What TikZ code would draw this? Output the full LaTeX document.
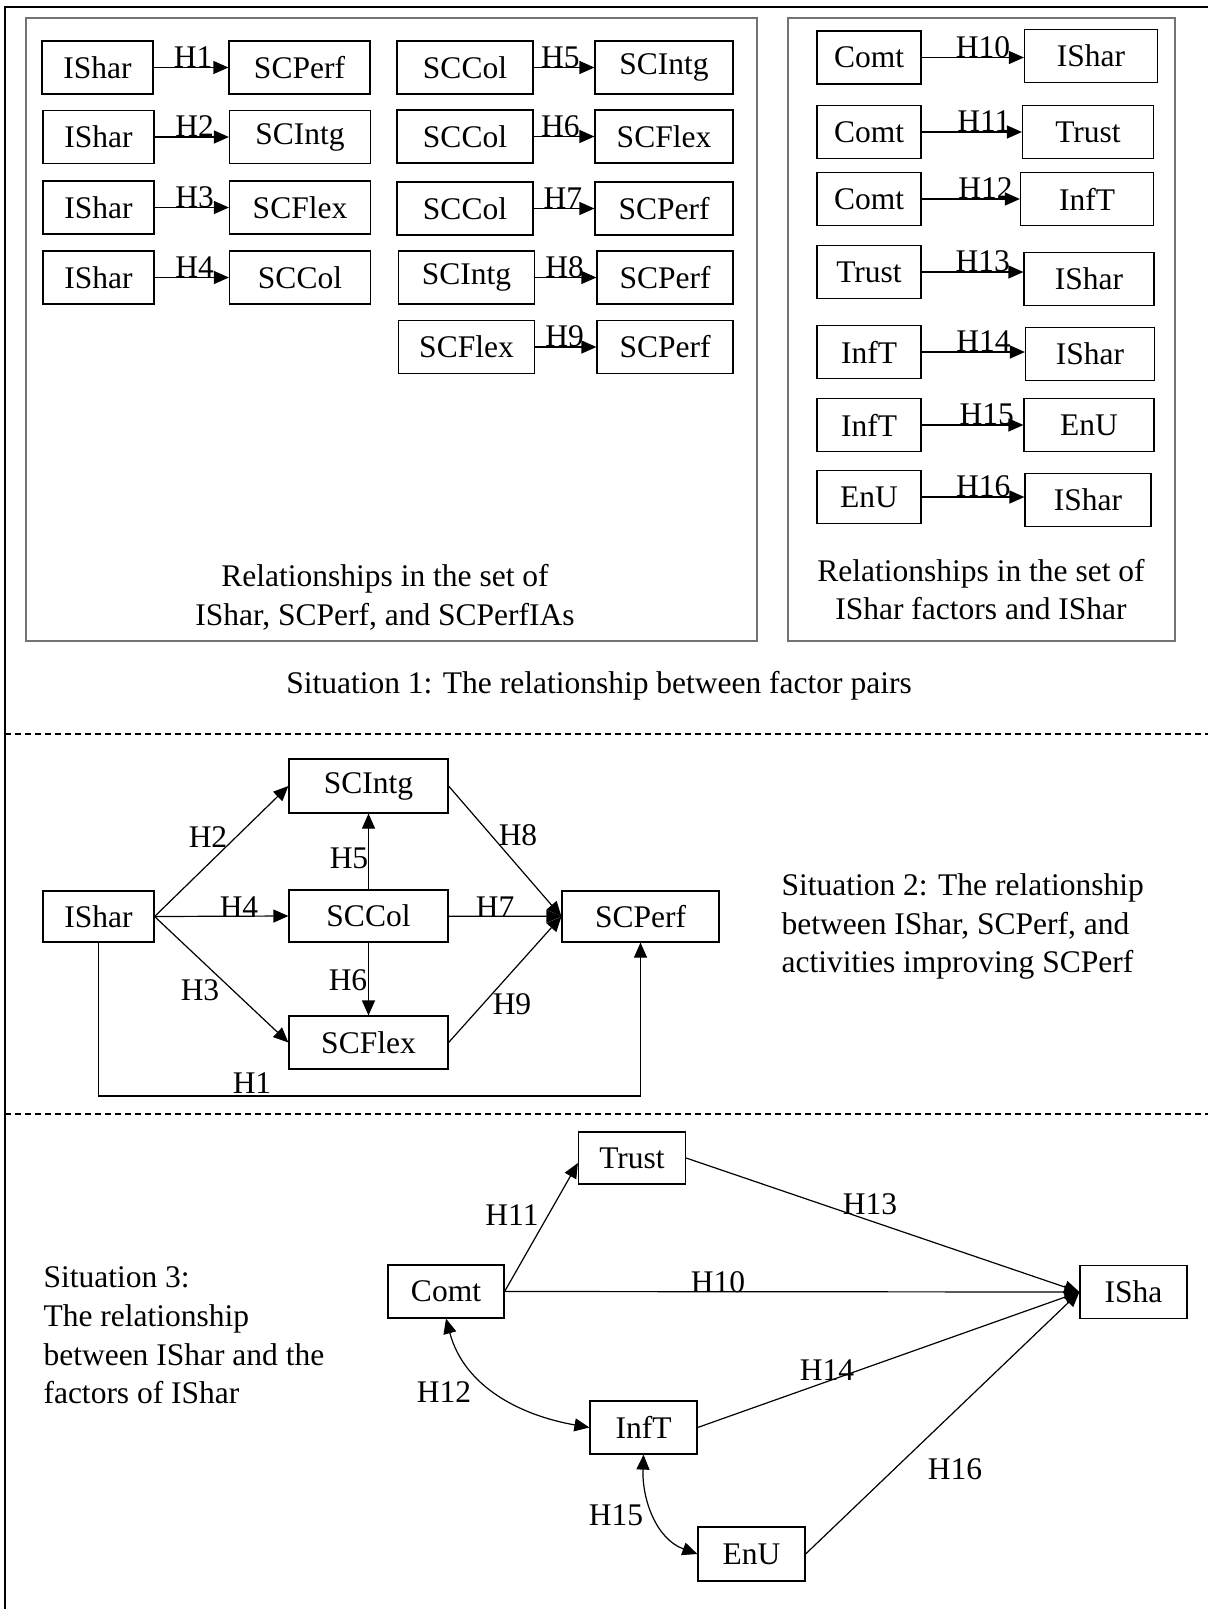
\documentclass[tikz,border=0pt]{standalone}
\usepackage{fontspec}
\setmainfont{Liberation Serif}
\usetikzlibrary{arrows.meta,positioning,calc}
\newcommand{\bigtxt}{\fontsize{31.5}{38.7}\selectfont}

\begin{document}
\begin{tikzpicture}[x=1pt,y=1pt,
  font=\bigtxt, >={Triangle[length=15pt,width=13pt]},
  box/.style={draw,line width=1.2pt,inner sep=0pt,minimum height=53pt},
  panel/.style={draw=black!55,line width=1.5pt},
  link/.style={->,line width=1.2pt},
  lbl/.style={inner sep=0pt,anchor=base,yshift=0.5pt},
  divider/.style={line width=1.2pt,dash pattern=on 6pt off 4pt},
]
\useasboundingbox (0,0) rectangle (1208,-1609);
% outer frame (top and left only)
\draw[line width=2.2pt] (5,-1609) -- (5,-7) -- (1208,-7);

%% Situation 1
\draw[panel] (26,-18) rectangle (757,-641);
\draw[panel] (788,-18) rectangle (1175,-641);

\node[box,minimum width=111pt] (a1) at (97.5,-67.5)  {IShar};
\node[box,minimum width=141pt] (b1) at (299.5,-67.5) {SCPerf};
\node[box,minimum width=111pt] (a2) at (98.5,-137)   {IShar};
\node[box,minimum width=141pt] (b2) at (300,-137)    {SCIntg};
\node[box,minimum width=111pt] (a3) at (98.5,-207.5) {IShar};
\node[box,minimum width=141pt] (b3) at (300,-207.5)  {SCFlex};
\node[box,minimum width=111pt] (a4) at (98.5,-277.5) {IShar};
\node[box,minimum width=141pt] (b4) at (300,-277.5)  {SCCol};

\node[box,minimum width=136pt] (c1) at (465,-67.5)  {SCCol};
\node[box,minimum width=138pt] (d1) at (664,-67.5)  {SCIntg};
\node[box,minimum width=136pt] (c2) at (465,-136.5) {SCCol};
\node[box,minimum width=138pt] (d2) at (664,-136.5) {SCFlex};
\node[box,minimum width=136pt] (c3) at (465,-208.5) {SCCol};
\node[box,minimum width=138pt] (d3) at (664,-208.5) {SCPerf};
\node[box,minimum width=136pt] (c4) at (466.5,-277.5) {SCIntg};
\node[box,minimum width=136pt] (d4) at (665,-277.5)   {SCPerf};
\node[box,minimum width=136pt] (c5) at (466.5,-347)   {SCFlex};
\node[box,minimum width=136pt] (d5) at (665,-347)     {SCPerf};

\draw[link] (a1) -- node[lbl,pos=0.53]{H1} (b1);
\draw[link] (a2) -- node[lbl,pos=0.54]{H2} (b2);
\draw[link] (a3) -- node[lbl,pos=0.54]{H3} (b3);
\draw[link] (a4) -- node[lbl,pos=0.54]{H4} (b4);
\draw[link] (c1) -- node[lbl,pos=0.44]{H5} (d1);
\draw[link] (c2) -- node[lbl,pos=0.44]{H6} (d2);
\draw[link] (c3) -- node[lbl,pos=0.48]{H7} (d3);
\draw[link] (c4) -- node[lbl,pos=0.48]{H8} (d4);
\draw[link] (c5) -- node[lbl,pos=0.48]{H9} (d5);

\node[box,minimum width=104pt] (e1) at (869,-57.5) {Comt};
\node[box,minimum width=133pt] (f1) at (1091,-56)  {IShar};
\node[box,minimum width=104pt] (e2) at (869,-132)  {Comt};
\node[box,minimum width=131pt] (f2) at (1088,-132) {Trust};
\node[box,minimum width=104pt] (e3) at (869,-199)  {Comt};
\node[box,minimum width=133pt] (f3) at (1087,-199) {InfT};
\node[box,minimum width=104pt] (e4) at (869,-272)  {Trust};
\node[box,minimum width=130pt] (f4) at (1089,-279) {IShar};
\node[box,minimum width=104pt] (e5) at (869,-352)  {InfT};
\node[box,minimum width=129pt] (f5) at (1090,-354) {IShar};
\node[box,minimum width=104pt] (e6) at (869,-425)  {InfT};
\node[box,minimum width=130pt] (f6) at (1089,-425) {EnU};
\node[box,minimum width=104pt] (e7) at (869,-497)  {EnU};
\node[box,minimum width=126pt] (f7) at (1088,-500) {IShar};

\draw[link] (e1.east) -- node[lbl,pos=0.6]{H10} (e1.east -| f1.west);
\draw[link] (e2.east) -- node[lbl,pos=0.62]{H11} (e2.east -| f2.west);
\draw[link] (e3.east) -- node[lbl,pos=0.65]{H12} (e3.east -| f3.west);
\draw[link] (e4.east) -- node[lbl,pos=0.6]{H13} (e4.east -| f4.west);
\draw[link] (e5.east) -- node[lbl,pos=0.6]{H14} (e5.east -| f5.west);
\draw[link] (e6.east) -- node[lbl,pos=0.64]{H15} (e6.east -| f6.west);
\draw[link] (e7.east) -- node[lbl,pos=0.6]{H16} (e7.east -| f7.west);

\node[align=center] (cap1) at (385,-597)   {Relationships in the set of\\IShar, SCPerf, and SCPerfIAs};
\node[align=center] (cap2) at (981,-589.5) {Relationships in the set of\\IShar factors and IShar};
\node (sit1) at (599,-686) {Situation 1: The relationship between factor pairs};

\draw[divider] (5,-734) -- (1208,-734);

%% Situation 2
\node[box,minimum width=111pt,minimum height=51pt] (ishar) at (98.5,-916.5) {IShar};
\node[box,minimum width=159pt,minimum height=54pt] (intg)  at (368.5,-786)  {SCIntg};
\node[box,minimum width=159pt,minimum height=52pt] (col)   at (368.5,-916)  {SCCol};
\node[box,minimum width=159pt]                     (flex)  at (368.5,-1042.5) {SCFlex};
\node[box,minimum width=157pt,minimum height=51pt] (perf)  at (640.5,-916.5) {SCPerf};
\coordinate (h1low) at (0,-1096);

\draw[link] (ishar.east) -- (intg.west);
\draw[link] (ishar.east) -- (col.west);
\draw[link] (ishar.east) -- (flex.west);
\draw[link] (col) -- (intg);
\draw[link] (col) -- (flex);
\draw[link] (col) -- (perf);
\draw[link] (intg.east) -- (perf.west);
\draw[link] (flex.east) -- (perf.west);
\draw[link] (ishar.south) |- (perf.south |- h1low) -- (perf.south);

\node at (208,-837)  {H2};
\node at (200,-990)  {H3};
\node at (239,-907)  {H4};
\node at (349,-858)  {H5};
\node at (348,-980)  {H6};
\node at (495,-907)  {H7};
\node at (518,-835)  {H8};
\node at (512,-1004) {H9};
\node at (252,-1083) {H1};

\node[align=left,anchor=west] (sit2) at (778,-926.5) {Situation 2: The relationship\\between IShar, SCPerf, and\\activities improving SCPerf};

\draw[divider] (5,-1114) -- (1208,-1114);

%% Situation 3
\node[box,minimum width=107pt,minimum height=52pt] (trust) at (632,-1158)    {Trust};
\node[box,minimum width=116pt]                     (comt)  at (446,-1291.5)  {Comt};
\node[box,minimum width=107pt]                     (isha)  at (1133.5,-1292) {ISha};
\node[box,minimum width=107pt]                     (inft)  at (643.5,-1427.5) {InfT};
\node[box,minimum width=107pt,minimum height=54pt] (enu)   at (751.5,-1554)  {EnU};

\draw[link] (comt.east) -- ([yshift=-5pt]trust.west);
\draw[link] (comt.east) -- (isha.west);
\draw[link] (trust.east) -- (isha.west);
\draw[link] (inft.east) -- (isha.west);
\draw[link] (enu.east) -- (isha.west);
\draw[<->,line width=1.2pt] (comt.south) to[out=-75,in=170] (inft.west);
\draw[<->,line width=1.2pt] (inft.south) to[out=-92,in=160] (enu.west);

\node at (512,-1215) {H11};
\node at (718,-1282) {H10};
\node at (870,-1204) {H13};
\node at (827,-1370) {H14};
\node at (444,-1392) {H12};
\node at (616,-1515) {H15};
\node at (955,-1469) {H16};

\node[align=left,anchor=west] (sit3) at (40,-1335.5) {Situation 3:\\The relationship\\between IShar and the\\factors of IShar};
\end{tikzpicture}
\end{document}
